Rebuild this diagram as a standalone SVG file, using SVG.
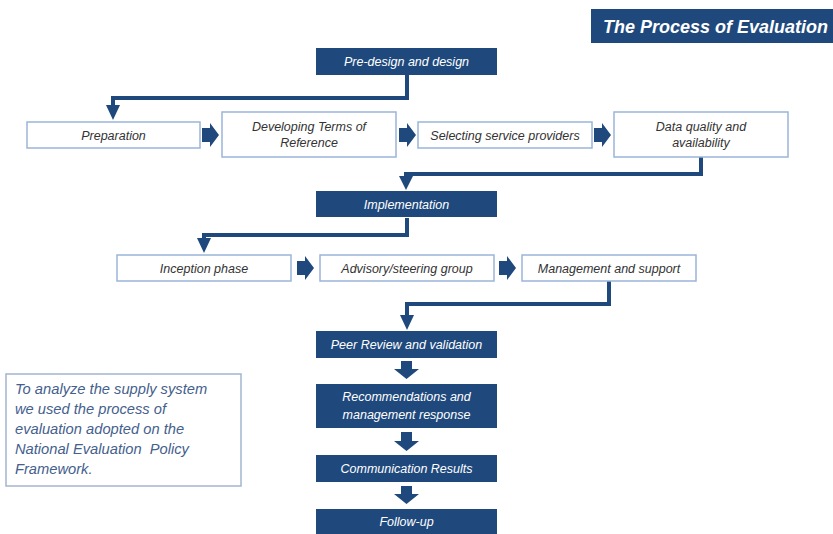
<svg xmlns="http://www.w3.org/2000/svg" width="833" height="534" viewBox="0 0 833 534">
<defs>
<style>
.dark{fill:#1F497D;}
.light{fill:#FFFFFF;stroke:#9AB5DA;stroke-width:1.5;}
.t{font-family:"Liberation Sans",Arial,sans-serif;font-style:italic;font-size:12.5px;text-anchor:middle;}
.tw{fill:#FFFFFF;}
.tk{fill:#333333;}
.conn{fill:none;stroke:#1F497D;stroke-width:4;stroke-linejoin:miter;}
.head{fill:#1F497D;}
.note{font-family:"Liberation Sans",Arial,sans-serif;font-style:italic;font-size:14.7px;fill:#44608C;}
</style>
</defs>
<rect width="833" height="534" fill="#FFFFFF"/>

<g id="title">
<rect x="591" y="9" width="242" height="34" class="dark"/>
<text x="603" y="33" font-family="'Liberation Sans',Arial,sans-serif" font-style="italic" font-weight="bold" font-size="18" fill="#FFFFFF">The Process of Evaluation</text>
</g>

<g id="connectors">
<path class="conn" d="M407,75 V98 H113 V106"/>
<polygon class="head" points="106,105 120,105 113,120"/>
<path class="conn" d="M701,157 V174 H406 V177"/>
<polygon class="head" points="399,176 413,176 406,190"/>
<path class="conn" d="M407,218 V235 H204 V239"/>
<polygon class="head" points="197,238 211,238 204,253"/>
<path class="conn" d="M609,281 V304 H407 V316"/>
<polygon class="head" points="400,315 414,315 407,330"/>
<polygon class="head" points="202,128 210,128 210,123 219,135 210,147 210,142 202,142"/>
<polygon class="head" points="399,128 407,128 407,123 416,135 407,147 407,142 399,142"/>
<polygon class="head" points="594,128 602,128 602,123 611,135 602,147 602,142 594,142"/>
<polygon class="head" points="297,261 305,261 305,256 314,268 305,280 305,275 297,275"/>
<polygon class="head" points="499,261 507,261 507,256 516,268 507,280 507,275 499,275"/>
<polygon class="head" points="401,361 412,361 412,369 419,369 406.5,379 394,369 401,369"/>
<polygon class="head" points="401,432 412,432 412,441 419,441 406.5,451 394,441 401,441"/>
<polygon class="head" points="401,486 412,486 412,494 419,494 406.5,504 394,494 401,494"/>
</g>

<g id="pre-design">
<rect x="316" y="48" width="181" height="27" class="dark"/>
<text x="406.5" y="66" class="t tw">Pre-design and design</text>
</g>

<g id="preparation">
<rect x="27" y="122" width="173" height="26" class="light"/>
<text x="113.5" y="139.5" class="t tk">Preparation</text>
</g>

<g id="terms-of-reference">
<rect x="222" y="112" width="174" height="45" class="light"/>
<text x="309" y="131" class="t tk">Developing Terms of</text>
<text x="309" y="147" class="t tk">Reference</text>
</g>

<g id="service-providers">
<rect x="418" y="122" width="174" height="26" class="light"/>
<text x="505" y="139.5" class="t tk">Selecting service providers</text>
</g>

<g id="data-quality">
<rect x="614" y="112" width="174" height="45" class="light"/>
<text x="701" y="131" class="t tk">Data quality and</text>
<text x="701" y="147" class="t tk">availability</text>
</g>

<g id="implementation">
<rect x="316" y="191" width="181" height="26" class="dark"/>
<text x="406.5" y="208.5" class="t tw">Implementation</text>
</g>

<g id="inception">
<rect x="117" y="255" width="174" height="26" class="light"/>
<text x="204" y="272.5" class="t tk">Inception phase</text>
</g>

<g id="advisory">
<rect x="320" y="255" width="174" height="26" class="light"/>
<text x="407" y="272.5" class="t tk">Advisory/steering group</text>
</g>

<g id="management">
<rect x="522" y="255" width="174" height="26" class="light"/>
<text x="609" y="272.5" class="t tk">Management and support</text>
</g>

<g id="peer-review">
<rect x="316" y="331" width="181" height="27" class="dark"/>
<text x="406.5" y="349" class="t tw">Peer Review and validation</text>
</g>

<g id="recommendations">
<rect x="316" y="384" width="181" height="44" class="dark"/>
<text x="406.5" y="401" class="t tw">Recommendations and</text>
<text x="406.5" y="419" class="t tw">management response</text>
</g>

<g id="communication">
<rect x="316" y="455" width="181" height="27" class="dark"/>
<text x="406.5" y="473" class="t tw">Communication Results</text>
</g>

<g id="follow-up">
<rect x="316" y="509" width="181" height="25" class="dark"/>
<text x="406.5" y="526" class="t tw">Follow-up</text>
</g>

<g id="note">
<rect x="6" y="374" width="235" height="112" fill="#FFFFFF" stroke="#A3B5D0" stroke-width="1.5"/>
<text x="15" y="394" class="note">To analyze the supply system</text>
<text x="15" y="414" class="note">we used the process of</text>
<text x="15" y="434" class="note">evaluation adopted on the</text>
<text x="15" y="454" class="note" xml:space="preserve">National Evaluation  Policy</text>
<text x="15" y="474" class="note">Framework.</text>
</g>
</svg>
